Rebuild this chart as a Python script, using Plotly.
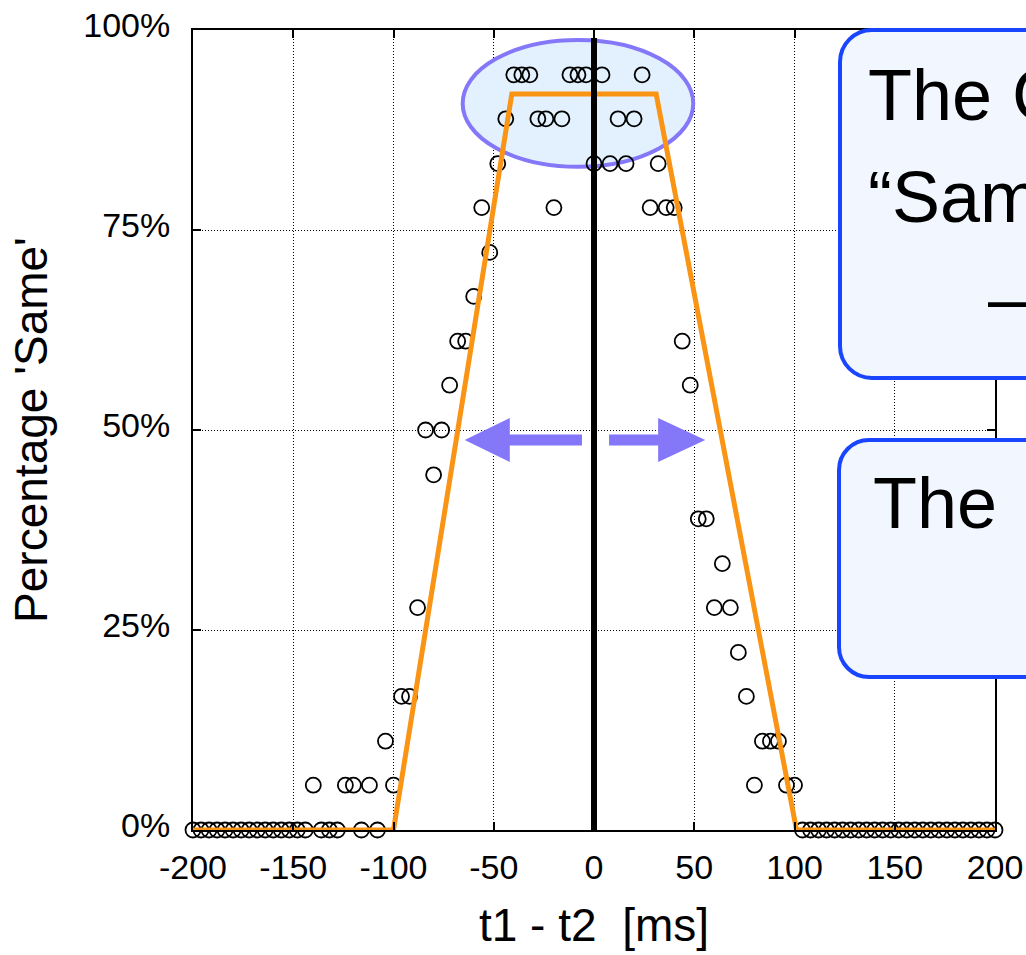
import plotly.graph_objects as go

# ---- data -------------------------------------------------------------
# stimulus onset difference t1 - t2 (ms) and share of 'same' responses (%)
delays = [
    -200, -196, -192, -188, -184, -180, -176, -172, -168, -164, -160, -156,
    -152, -148, -144, -140, -136, -132, -128, -124, -120, -116, -112, -108,
    -104, -100, -96, -92, -88, -84, -80, -76, -72, -68, -64, -60, -56, -52,
    -48, -44, -40, -36, -32, -28, -24, -20, -16, -12, -8, -4, 0,
    4, 8, 12, 16, 20, 24, 28, 32, 36, 40, 44, 48, 52, 56, 60, 64, 68, 72,
    76, 80, 84, 88, 92, 96, 100, 104, 108, 112, 116, 120, 124, 128, 132,
    136, 140, 144, 148, 152, 156, 160, 164, 168, 172, 176, 180, 184, 188,
    192, 196, 200,
]
same_pct = [
    0, 0, 0, 0, 0, 0, 0, 0, 0, 0, 0, 0,
    0, 0, 0, 5.6, 0, 0, 0, 5.6, 5.6, 0, 5.6, 0,
    11.1, 5.6, 16.7, 16.7, 27.8, 50.0, 44.4, 50.0, 55.6, 61.1, 61.1, 66.7, 77.8, 72.2,
    83.3, 88.9, 94.4, 94.4, 94.4, 88.9, 88.9, 77.8, 88.9, 94.4, 94.4, 94.4, 83.3,
    94.4, 83.3, 88.9, 83.3, 88.9, 94.4, 77.8, 83.3, 77.8, 77.8, 61.1, 55.6, 38.9, 38.9, 27.8, 33.3, 27.8, 22.2,
    16.7, 5.6, 11.1, 11.1, 11.1, 5.6, 5.6, 0, 0, 0, 0, 0, 0, 0, 0,
    0, 0, 0, 0, 0, 0, 0, 0, 0, 0, 0, 0, 0, 0,
    0, 0, 0,
]

# trapezoid model of the 'same' judgement window
model_x = [-200, -100, -41, 31, 101, 200]
model_y = [0, 0, 92, 92, 0, 0]

x_ticks = [-200, -150, -100, -50, 0, 50, 100, 150, 200]
x_tick_labels = ["-200", "-150", "-100", "-50", "0", "50", "100", "150", "200"]
y_ticks = [0, 25, 50, 75, 100]
y_tick_labels = ["0%", "25%", "50%", "75%", "100%"]

# ---- geometry ---------------------------------------------------------
W, H = 1026, 955
L, R, T, B = 193, 31, 30, 125
PW, PH = W - L - R, H - T - B


def px(x, y):
    """pixel position -> paper coordinates"""
    return (x - L) / PW, (H - B - y) / PH


def rounded_box(x0, y0, x1, y1, r):
    k = 0.5523 * r

    def p(x, y):
        a, b = px(x, y)
        return f"{a:.5f},{b:.5f}"

    d = f"M {p(x0 + r, y0)} L {p(x1 - r, y0)} "
    d += f"C {p(x1 - r + k, y0)} {p(x1, y0 + r - k)} {p(x1, y0 + r)} "
    d += f"L {p(x1, y1 - r)} "
    d += f"C {p(x1, y1 - r + k)} {p(x1 - r + k, y1)} {p(x1 - r, y1)} "
    d += f"L {p(x0 + r, y1)} "
    d += f"C {p(x0 + r - k, y1)} {p(x0, y1 - r + k)} {p(x0, y1 - r)} "
    d += f"L {p(x0, y0 + r)} "
    d += f"C {p(x0, y0 + r - k)} {p(x0 + r - k, y0)} {p(x0 + r, y0)} Z"
    return d


def arrow(x_start, x_base, x_tip, y, half_shaft, half_head):
    return (
        f"M {x_start},{y + half_shaft} L {x_base},{y + half_shaft} "
        f"L {x_base},{y + half_head} L {x_tip},{y} L {x_base},{y - half_head} "
        f"L {x_base},{y - half_shaft} L {x_start},{y - half_shaft} Z"
    )


FONT = "Liberation Sans, Arial, Helvetica, sans-serif"
ACCENT = "#8478F8"
BOX_LINE = "#1A45FF"
BOX_FILL = "#F2F7FF"

fig = go.Figure()

fig.add_trace(go.Scatter(
    x=delays, y=same_pct, mode="markers", cliponaxis=False,
    marker=dict(symbol="circle-open", size=15, color="black",
                line=dict(width=1.8, color="black")),
    showlegend=False, hoverinfo="x+y",
))
fig.add_trace(go.Scatter(
    x=model_x, y=model_y, mode="lines", cliponaxis=False,
    line=dict(color="#FA9414", width=5), showlegend=False,
))
fig.add_trace(go.Scatter(
    x=[0, 0], y=[0, 99], mode="lines",
    line=dict(color="black", width=6), showlegend=False,
))

shapes = [
    dict(type="circle", xref="x", yref="y", x0=-65.5, x1=49.5, y0=82.9, y1=98.75,
         fillcolor="#E2F1FD", line=dict(color=ACCENT, width=4), layer="between"),
    dict(type="path", xref="x", yref="y",
         path=arrow(-6, -42, -64.5, 48.75, 0.7, 2.75),
         fillcolor=ACCENT, line=dict(width=0), layer="above"),
    dict(type="path", xref="x", yref="y",
         path=arrow(7.5, 32, 55.5, 48.75, 0.7, 2.75),
         fillcolor=ACCENT, line=dict(width=0), layer="above"),
    dict(type="path", xref="paper", yref="paper",
         path=rounded_box(840, 30, 1140, 378, 32),
         fillcolor=BOX_FILL, line=dict(color=BOX_LINE, width=4), layer="above"),
    dict(type="path", xref="paper", yref="paper",
         path=rounded_box(839, 440, 1140, 677, 30),
         fillcolor=BOX_FILL, line=dict(color=BOX_LINE, width=4), layer="above"),
]

box_lines = [
    ("The Criterion for", 866, 95),
    ("\u201cSame\u201d Judgement", 866, 197),
    ("\u2014 \u00b1100 ms \u2014", 986, 298),
    ("The\u00a0\u00a0Window", 871, 503),
]
annotations = []
for text, x, y in box_lines:
    ax, ay = px(x, y)
    annotations.append(dict(
        text=text, x=ax, y=ay, xref="paper", yref="paper",
        xanchor="left", yanchor="middle", showarrow=False,
        font=dict(family=FONT, size=72, color="black"),
    ))

axis_common = dict(
    ticks="inside", ticklen=8, tickwidth=1.5, tickcolor="black",
    showline=True, linewidth=2, linecolor="black", mirror="ticks",
    showgrid=True, gridcolor="black", gridwidth=1, griddash="1px,2px",
    zeroline=False, tickfont=dict(family=FONT, size=34, color="black"),
)

fig.update_xaxes(
    range=[-200, 200], tickmode="array", tickvals=x_ticks, ticktext=x_tick_labels,
    ticklabelstandoff=6,
    title=dict(text="t1 - t2 \u00a0[ms]", font=dict(family=FONT, size=46, color="black"),
               standoff=24),
    **axis_common,
)
fig.update_yaxes(
    range=[0, 100], tickmode="array", tickvals=y_ticks, ticktext=y_tick_labels,
    ticklabelstandoff=14, ticklabelshift=-5,
    title=dict(text="Percentage 'Same'", font=dict(family=FONT, size=46, color="black"),
               standoff=21),
    **axis_common,
)

fig.update_layout(
    width=W, height=H,
    margin=dict(l=L, r=R, t=T, b=B, autoexpand=False),
    plot_bgcolor="white", paper_bgcolor="white",
    shapes=shapes, annotations=annotations,
    font=dict(family=FONT, color="black"),
)

fig.write_html("out.html")
